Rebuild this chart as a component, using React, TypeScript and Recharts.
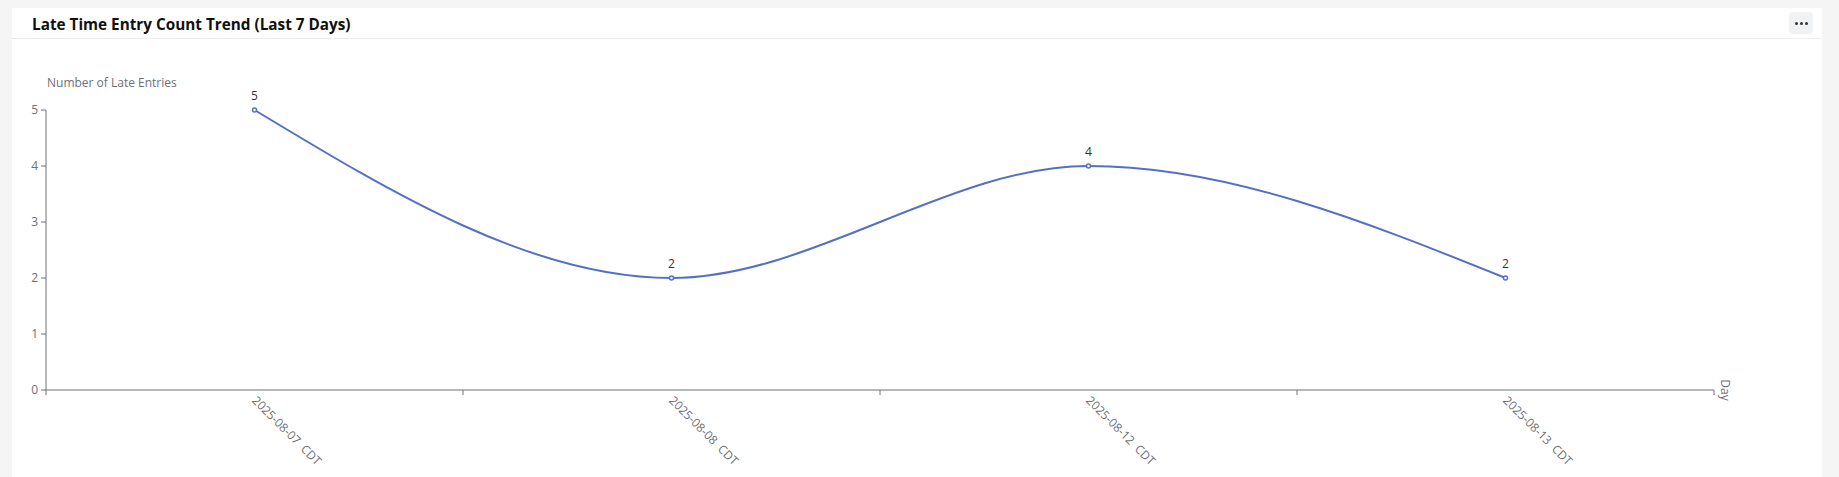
import React from 'react';
import { LineChart, Line, XAxis, YAxis, LabelList, Label } from 'recharts';

const days = ['2025-08-07\u00a0 CDT', '2025-08-08\u00a0 CDT', '2025-08-12\u00a0 CDT', '2025-08-13\u00a0 CDT'];
const counts = [5, 2, 4, 2];
const yTicks = [0, 1, 2, 3, 4, 5];
const title = 'Late Time Entry Count Trend (Last 7 Days)';
const yName = 'Number of Late Entries';
const xName = 'Day';

const data = days.map((d, i) => ({ idx: i, day: d, count: counts[i] }));
const xTicks = days.flatMap((_, i) => [i - 0.5, i]).concat([days.length - 0.5]);

const AXIS = '#6E7079';
const FONT = '"Open Sans", "Noto Sans", sans-serif';

const XTick = (props: any) => {
  const { x, y, payload } = props;
  const v = payload.value;
  if (!Number.isInteger(v)) {
    return <line x1={x} y1={y} x2={x} y2={y + 5} stroke={AXIS} strokeWidth={1} />;
  }
  const ty = y + 8;
  return (
    <text
      x={x}
      y={ty}
      transform={`rotate(45, ${x}, ${ty})`}
      textAnchor="start"
      dominantBaseline="central"
      fontSize={12}
      fill={AXIS}
      fontFamily={FONT}
    >
      {days[v]}
    </text>
  );
};

const DayLabel = (props: any) => {
  const vb = props.viewBox;
  const x = vb.x + vb.width + 11;
  const y = vb.y;
  return (
    <text
      x={x}
      y={y}
      transform={`rotate(90, ${x}, ${y})`}
      textAnchor="middle"
      dominantBaseline="central"
      fontSize={12}
      fill={AXIS}
      fontFamily={FONT}
    >
      {xName}
    </text>
  );
};

const YNameLabel = (props: any) => {
  const vb = props.viewBox;
  return (
    <text
      x={vb.x + vb.width + 1}
      y={vb.y - 23}
      textAnchor="start"
      fontSize={12}
      fill={AXIS}
      fontFamily={FONT}
    >
      {yName}
    </text>
  );
};

export default function App() {
  return (
    <div
      style={{
        position: 'absolute',
        left: 0,
        top: 0,
        width: 1839,
        height: 477,
        background: '#f5f5f5',
        overflow: 'hidden',
        fontFamily: FONT,
      }}
    >
      <div
        style={{
          position: 'absolute',
          left: 12,
          top: 8,
          width: 1810,
          height: 480,
          background: '#ffffff',
        }}
      />
      <div
        style={{
          position: 'absolute',
          left: 12,
          top: 38,
          width: 1810,
          height: 1,
          background: '#ececec',
        }}
      />
      <div
        style={{
          position: 'absolute',
          left: 32,
          top: 14,
          fontSize: 15.3,
          fontWeight: 700,
          color: '#111',
          lineHeight: '20px',
          whiteSpace: 'nowrap',
        }}
      >
        {title}
      </div>
      <div
        style={{
          position: 'absolute',
          left: 1789,
          top: 12,
          width: 24,
          height: 22,
          borderRadius: 4,
          background: '#f1f2f4',
          display: 'flex',
          alignItems: 'center',
          justifyContent: 'center',
          gap: 2,
        }}
      >
        {[0, 1, 2].map((k) => (
          <span key={k} style={{ width: 3, height: 3, borderRadius: 2, background: '#333', display: 'block' }} />
        ))}
      </div>
      <div style={{ position: 'absolute', left: 0, top: 0 }}>
        <LineChart
          width={1839}
          height={477}
          data={data}
          margin={{ top: 110, right: 125, bottom: 0, left: 0 }}
        >
          <XAxis
            type="number"
            dataKey="idx"
            domain={[-0.5, days.length - 0.5]}
            ticks={xTicks}
            interval={0}
            allowDataOverflow
            height={87}
            tickSize={0}
            tickMargin={0}
            tickLine={false}
            axisLine={{ stroke: AXIS, strokeWidth: 1 }}
            tick={<XTick />}
          >
            <Label content={<DayLabel />} />
          </XAxis>
          <YAxis
            type="number"
            domain={[0, 5]}
            ticks={yTicks}
            interval={0}
            width={46}
            tickSize={5}
            tickMargin={3}
            axisLine={{ stroke: AXIS, strokeWidth: 1 }}
            tickLine={{ stroke: AXIS }}
            tick={{ fill: AXIS, fontSize: 12, fontFamily: FONT }}
          >
            <Label content={<YNameLabel />} />
          </YAxis>
          <Line
            type="monotone"
            dataKey="count"
            stroke="#5470c6"
            strokeWidth={2}
            dot={{ r: 2, fill: '#ffffff', stroke: '#5470c6', strokeWidth: 1.5 }}
            activeDot={false}
            isAnimationActive={false}
          >
            <LabelList dataKey="count" position="top" offset={10} fill="#333" fontSize={12} fontFamily={FONT} />
          </Line>
        </LineChart>
      </div>
    </div>
  );
}
